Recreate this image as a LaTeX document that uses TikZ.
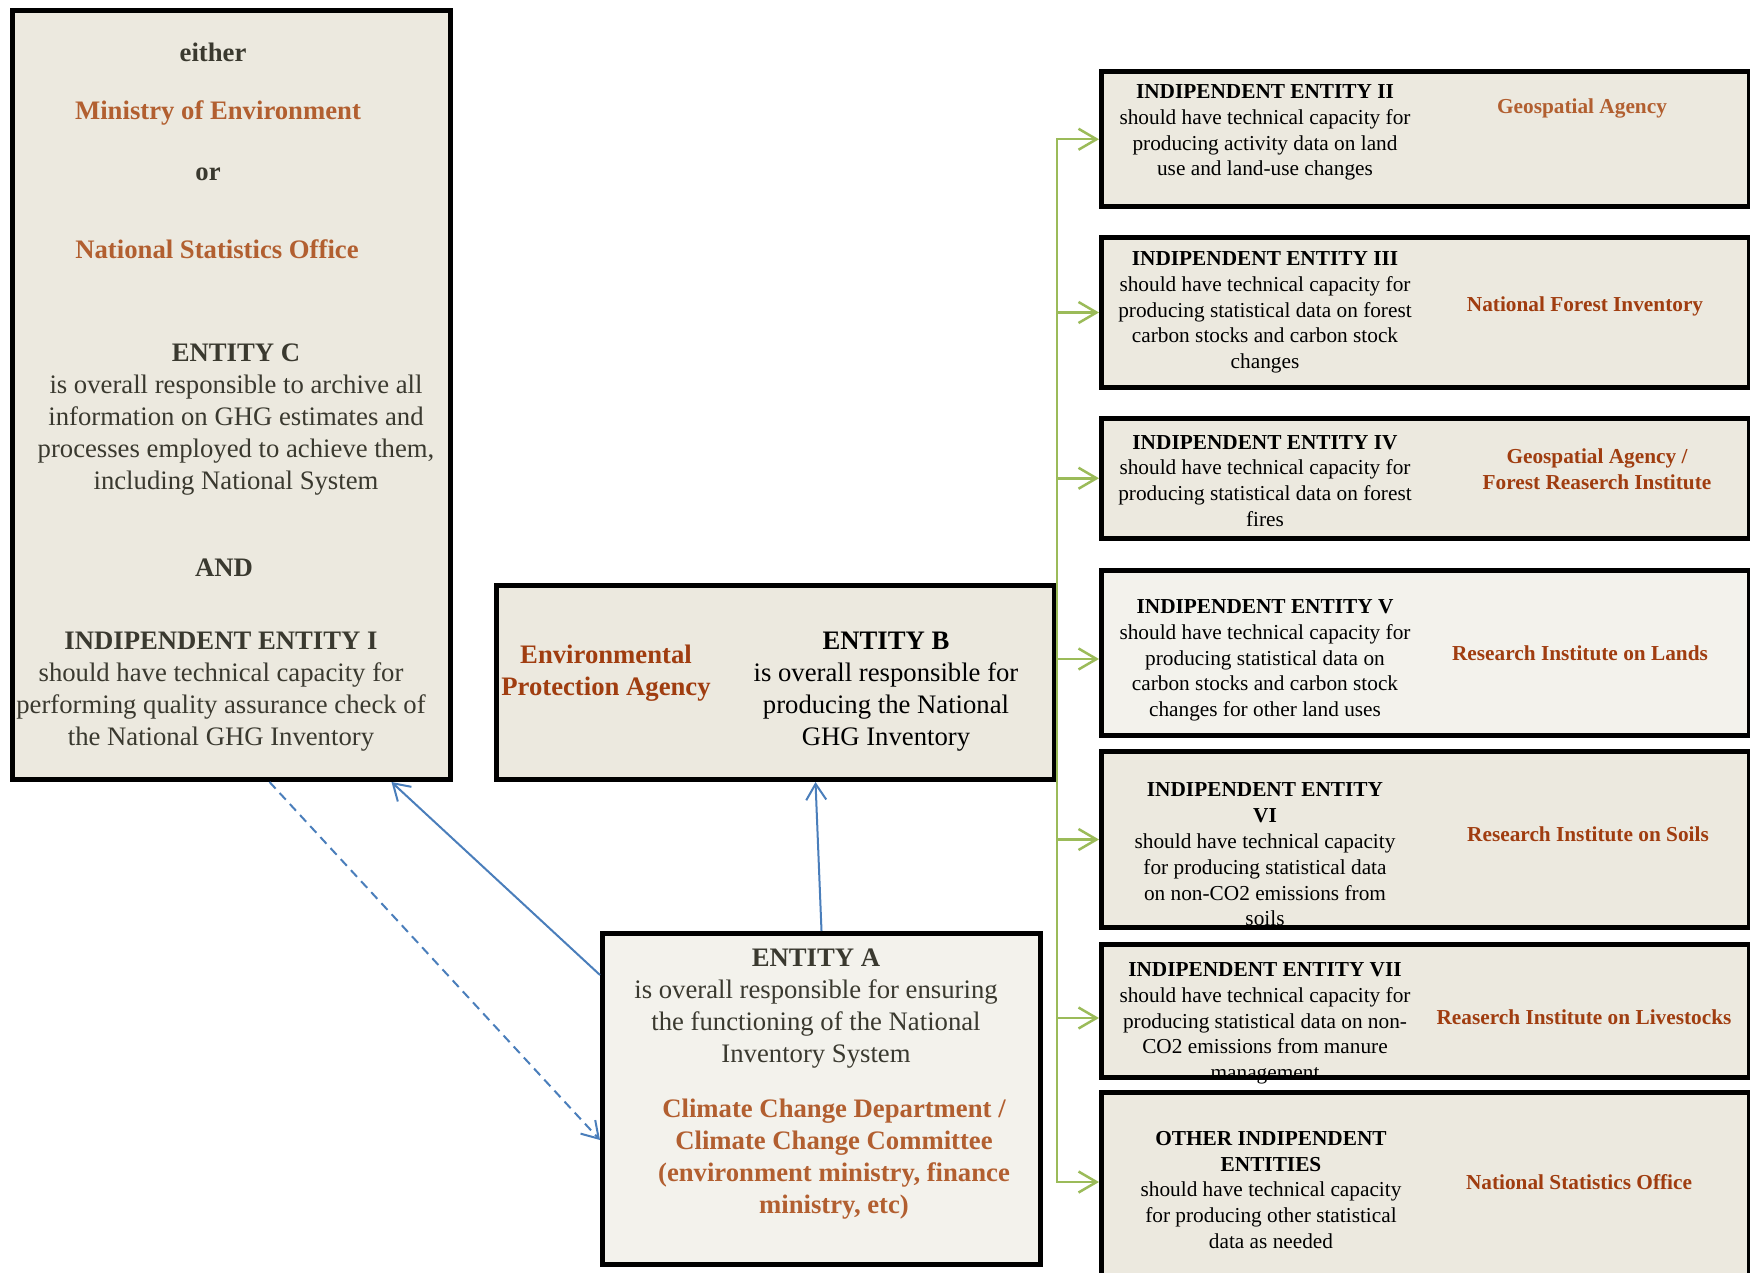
\documentclass[tikz,border=0pt]{standalone}
\usepackage{fontspec}
\setmainfont{Liberation Serif}
\usepackage{xcolor}
\usepackage{tikz}
\usetikzlibrary{arrows.meta, positioning}

\definecolor{boxfill}{HTML}{ECE9DF}
\definecolor{boxlight}{HTML}{F3F2EC}
\definecolor{darktext}{HTML}{3A392F}
\definecolor{orgorange}{HTML}{B25F30}
\definecolor{orgred}{HTML}{A03D10}
\definecolor{lineblue}{HTML}{4A7EBB}
\definecolor{linegreen}{HTML}{9BBB59}

\newcommand{\fsbig}{\fontsize{26.7}{32}\selectfont}
\newcommand{\fssmall}{\fontsize{21.3}{25.8}\selectfont}

\begin{document}
\begin{tikzpicture}[
    x=1pt, y=-1pt,
    entbox/.style={rectangle, draw=black, line width=5pt, fill=boxfill, inner sep=0pt, anchor=north west},
    lightbox/.style={entbox, fill=boxlight},
    bigtext/.style={font=\fsbig, align=center, inner sep=0pt, yshift=-3.5pt},
    bighead/.style={font=\fsbig\bfseries, align=center, inner sep=0pt, yshift=-3.5pt},
    smalltext/.style={font=\fssmall, align=center, inner sep=0pt, yshift=-3.5pt},
    smallhead/.style={font=\fssmall\bfseries, align=center, inner sep=0pt, yshift=-2pt},
    bluearrow/.style={->, >={Straight Barb[length=16pt,width=20pt]}, line width=2pt, lineblue},
    greenarrow/.style={->, >={Straight Barb[length=18pt,width=21pt]}, line width=2.5pt, linegreen}
]
\useasboundingbox (0,0) rectangle (1750,1273);

% left, middle and bottom boxes
\node[entbox, minimum width=438pt, minimum height=769pt] (entC) at (10,8) {};
\node[entbox, minimum width=558pt, minimum height=194pt] (entB) at (494,583) {};
\node[lightbox, minimum width=438pt, minimum height=331pt] (entA) at (600,931) {};

% independent entities
\node[entbox, minimum width=648pt, minimum height=135.5pt] (ie2) at (1099,69) {};
\node[entbox, minimum width=648pt, minimum height=149pt] (ie3) at (1099,235.5) {};
\node[entbox, minimum width=648pt, minimum height=119.5pt] (ie4) at (1099,416) {};
\node[lightbox, minimum width=648pt, minimum height=165pt] (ie5) at (1099,567.5) {};
\node[entbox, minimum width=648pt, minimum height=176pt] (ie6) at (1099,749) {};
\node[entbox, minimum width=648pt, minimum height=133pt] (ie7) at (1099,941.5) {};
\node[entbox, minimum width=648pt, minimum height=200pt] (ieX) at (1099,1089.5) {};

% entity C / independent entity I
\node[bighead, text=darktext] (cEither) at (213,49) {either};
\node[bighead, text=orgorange] (cMin) at (218,109) {Ministry of Environment};
\node[bighead, text=darktext] (cOr) at (208,171) {or};
\node[bighead, text=orgorange] (cNso) at (217,246) {National Statistics Office};
\node[bigtext, text=darktext] (cText) at (236,416) {\textbf{ENTITY C}\\is overall responsible to archive all\\information on GHG estimates and\\processes employed to achieve them,\\including National System};
\node[bighead, text=darktext] (cAnd) at (224,564) {AND};
\node[bigtext, text=darktext] (iText) at (221,688) {\textbf{INDIPENDENT ENTITY I}\\should have technical capacity for\\performing quality assurance check of\\the National GHG Inventory};

% entity B
\node[bighead, text=orgred] (bOrg) at (606,670) {Environmental\\Protection Agency};
\node[bigtext] (bText) at (886,688) {\textbf{ENTITY B}\\is overall responsible for\\producing the National\\GHG Inventory};

% entity A
\node[bigtext, text=darktext] (aText) at (816,1005) {\textbf{ENTITY A}\\is overall responsible for ensuring\\the functioning of the National\\Inventory System};
\node[bighead, text=orgorange] (aOrg) at (834,1156) {Climate Change Department /\\Climate Change Committee\\(environment ministry, finance\\ministry, etc)};

% right column texts
\node[smalltext] (ie2Text) at (1265,129) {\textbf{INDIPENDENT ENTITY II}\\should have technical capacity for\\producing activity data on land\\use and land-use changes};
\node[smallhead, text=orgorange] (ie2Org) at (1582,106) {Geospatial Agency};

\node[smalltext] (ie3Text) at (1265,309) {\textbf{INDIPENDENT ENTITY III}\\should have technical capacity for\\producing statistical data on forest\\carbon stocks and carbon stock\\changes};
\node[smallhead, text=orgred] (ie3Org) at (1585,304) {National Forest Inventory};

\node[smalltext] (ie4Text) at (1265,477.5) {\textbf{INDIPENDENT ENTITY IV}\\should have technical capacity for\\producing statistical data on forest\\fires};
\node[smallhead, text=orgred] (ie4Org) at (1597,467) {Geospatial Agency /\\Forest Reaserch Institute};

\node[smalltext] (ie5Text) at (1265,657) {\textbf{INDIPENDENT ENTITY V}\\should have technical capacity for\\producing statistical data on\\carbon stocks and carbon stock\\changes for other land uses};
\node[smallhead, text=orgred] (ie5Org) at (1580,651) {Research Institute on Lands};

\node[smalltext] (ie6Text) at (1265,851) {\textbf{INDIPENDENT ENTITY}\\\textbf{VI}\\should have technical capacity\\for producing statistical data\\on non-CO2 emissions from\\soils};
\node[smallhead, text=orgred] (ie6Org) at (1588,832) {Research Institute on Soils};

\node[smalltext] (ie7Text) at (1265,1020) {\textbf{INDIPENDENT ENTITY VII}\\should have technical capacity for\\producing statistical data on non-\\CO2 emissions from manure\\management};
\node[smallhead, text=orgred] (ie7Org) at (1584,1015) {Reaserch Institute on Livestocks};

\node[smalltext] (ieXText) at (1271,1186.5) {\textbf{OTHER INDIPENDENT}\\\textbf{ENTITIES}\\should have technical capacity\\for producing other statistical\\data as needed};
\node[smallhead, text=orgred] (ieXOrg) at (1579,1180) {National Statistics Office};

% links
\draw[bluearrow] (entA.north) -- ([xshift=40pt]entB.south);
\draw[bluearrow] ([yshift=-44pt]entA.north west) -- ([xshift=160pt]entC.south);
\draw[bluearrow, dash pattern=on 9pt off 6pt] ([xshift=38pt]entC.south) -- ([yshift=-209pt]entA.north west);

\draw[greenarrow] (entB.east) |- (ie2.west);
\draw[greenarrow] (entB.east) |- (ie3.west);
\draw[greenarrow] (entB.east) |- (ie4.west);
\draw[greenarrow] (entB.east) |- ([yshift=-6.5pt]ie5.west);
\draw[greenarrow] (entB.east) |- (ie6.west);
\draw[greenarrow] (entB.east) |- ([yshift=-7.5pt]ie7.west);
\draw[greenarrow] (entB.east) |- ([yshift=10pt]ieX.west);

\end{tikzpicture}
\end{document}
